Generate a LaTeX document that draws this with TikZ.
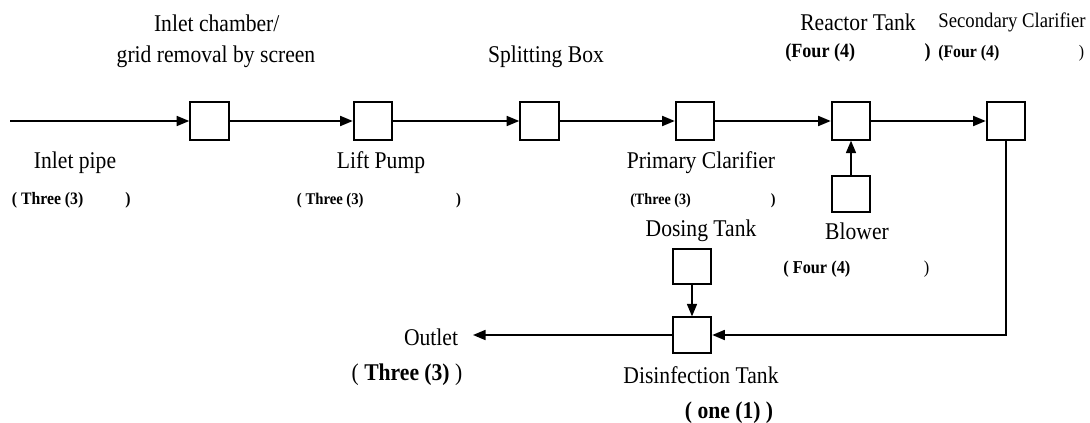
\documentclass[tikz,border=0pt]{standalone}
\usepackage{fontspec}
\setmainfont{Liberation Serif}[FakeStretch=0.9]
\usetikzlibrary{arrows.meta}
\begin{document}
\begin{tikzpicture}[x=0.75pt,y=-0.75pt,
  box/.style={draw, line width=1.4pt, minimum width=29pt, minimum height=28pt, inner sep=0pt},
  sbox/.style={box, minimum height=26.5pt},
  flow/.style={line width=1.25pt, -{Triangle[length=9.4pt,width=7.5pt]}},
  lbl/.style={inner sep=0pt, font=\fontsize{18pt}{20pt}\selectfont},
  cnt/.style={anchor=west, inner sep=0pt, font=\bfseries\fontsize{#1pt}{#1pt}\selectfont}]
\useasboundingbox (0,0) rectangle (1090,422);

% boxes
\node[box] (b1) at (209.5,121) {};
\node[box] (b2) at (373,121) {};
\node[box] (b3) at (539.5,121) {};
\node[box] (b4) at (695,121) {};
\node[box] (b5) at (851,121) {};
\node[box] (b6) at (1006,121) {};
\node[sbox] (blow) at (851,194) {};
\node[sbox] (dose) at (692,266.5) {};
\node[sbox] (dis) at (692,335) {};

% connectors
\coordinate (in) at (10,121);
\coordinate (out) at (473,335);
\draw[flow] (in) -- (b1.west);
\draw[flow] (b1.east) -- (b2.west);
\draw[flow] (b2.east) -- (b3.west);
\draw[flow] (b3.east) -- (b4.west);
\draw[flow] (b4.east) -- (b5.west);
\draw[flow] (b5.east) -- (b6.west);
\draw[flow] (blow.north) -- (b5.south);
\draw[flow] (dose.south) -- (dis.north);
\draw[flow] (b6.south) |- (dis.east);
\draw[flow] (dis.west) -- (out);

% labels
\node[lbl] (tIC) at (216.7,23) {Inlet chamber/};
\node[lbl] (tGR) at (216,57) {grid removal by screen};
\node[lbl] (tSB) at (546,57) {Splitting Box};
\node[lbl] (tRT) at (858,22.7) {Reactor Tank};
\node[lbl, font=\fontsize{15.6pt}{18pt}\selectfont] (tSC) at (1012,22.7) {Secondary Clarifier};
\node[lbl] (tIP) at (75,162.7) {Inlet pipe};
\node[lbl] (tLP) at (381,162.7) {Lift Pump};
\node[lbl] (tPC) at (701,163) {Primary Clarifier};
\node[lbl] (tDT) at (701,230.7) {Dosing Tank};
\node[lbl] (tBL) at (857,231.7) {Blower};
\node[lbl] (tOU) at (431,337) {Outlet};
\node[lbl] (tDI) at (701,375) {Disinfection Tank};
\node[lbl] (qOU) at (407,375) {( \textbf{Three (3)} )};
\node[lbl, font=\bfseries\fontsize{18pt}{20pt}\selectfont] (qDI) at (729,413) {( one (1) )};

% counts
\node[cnt=13.1] (qIP) at (11.7,200.7) {\makebox[89pt][l]{( Three (3)\hfill)}};
\node[cnt=12.25] (qLP) at (296.7,200.7) {\makebox[123pt][l]{( Three (3)\hfill)}};
\node[cnt=11.8] (qPC) at (630,201) {\makebox[109pt][l]{(Three (3)\hfill)}};
\node[cnt=15.1] (qRT) at (785,53) {\makebox[109pt][l]{(Four (4)\hfill)}};
\node[cnt=13.2] (qSC) at (938,53) {\makebox[109.5pt][l]{(Four (4)\hfill\mdseries)}};
\node[cnt=13.6] (qBL) at (783,269) {\makebox[109.5pt][l]{( Four (4)\hfill\mdseries)}};
\end{tikzpicture}
\end{document}
